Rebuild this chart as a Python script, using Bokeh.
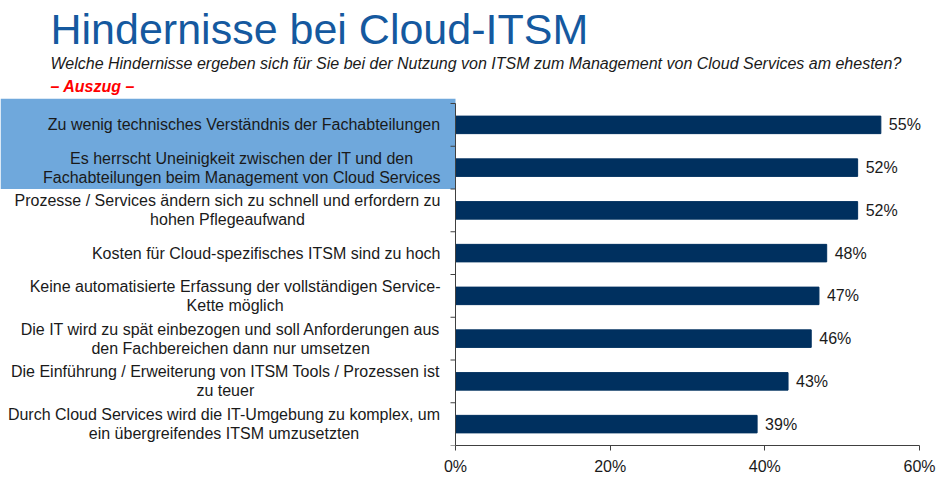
import math
from bokeh.plotting import figure
from bokeh.models import (Range1d, FixedTicker, PrintfTickFormatter, BoxAnnotation,
                          Title, ColumnDataSource)
from bokeh.core.properties import value
from bokeh.embed import file_html
from bokeh.resources import INLINE

# ---------------- data ----------------
categories = [
    "Zu wenig technisches Verständnis der Fachabteilungen",
    "Es herrscht Uneinigkeit zwischen der IT und den\nFachabteilungen beim Management von Cloud Services",
    "Prozesse / Services ändern sich zu schnell und erfordern zu\nhohen Pflegeaufwand",
    "Kosten für Cloud-spezifisches ITSM sind zu hoch",
    "Keine automatisierte Erfassung der vollständigen Service-\nKette möglich",
    "Die IT wird zu spät einbezogen und soll Anforderungen aus\nden Fachbereichen dann nur umsetzen",
    "Die Einführung / Erweiterung von ITSM Tools / Prozessen ist\nzu teuer",
    "Durch Cloud Services wird die IT-Umgebung zu komplex, um\nein übergreifendes ITSM umzusetzten",
]
values = [55, 52, 52, 48, 47, 46, 43, 39]
x_ticks = [0, 20, 40, 60]
n_highlighted = 2

title_text = "Hindernisse bei Cloud-ITSM"
subtitle_text = ("Welche Hindernisse ergeben sich für Sie bei der Nutzung von ITSM "
                 "zum Management von Cloud Services am ehesten?")
note_text = "– Auszug –"

# ---------------- layout ----------------
FONT = "Liberation Sans"
W, H = 936, 478
MB_RIGHT, MB_TOP, MB_BOTTOM = 11, 98, 33
AXIS0_PX = 455.0                 # pixel position of 0 %
SCALE = 464.0 / 60.0             # px per percent
X_START = -AXIS0_PX / SCALE
X_END = X_START + (W - MB_RIGHT) / SCALE
n = len(categories)
Y_END = n + 5.0 / 42.75
LABEL_FS = 16

# Arial / Liberation Sans advance widths (1/1000 em)
_w = {}
for chars, wd in [("ijl", 222), (" ftI/.,:;!", 278), ("r-()", 333),
                  ("cksvxyzJ", 500), ("abdeghnopquäöüL0123456789?", 556),
                  ("FTZß", 611), ("ABEKPSVXYÄ", 667), ("CDHNRUwÜ", 722),
                  ("GOQÖ", 778), ("mM", 833), ("%", 889), ("W", 944)]:
    for c in chars:
        _w[c] = wd


def text_px(s, fs):
    return sum(_w.get(c, 556) for c in s) * fs / 1000.0


y_centers = [n - i - 0.5 for i in range(n)]
right_edge = -15.0 / SCALE
label_x = [right_edge - max(text_px(l, LABEL_FS) for l in c.split("\n")) / 2.0 / SCALE
           for c in categories]

src = ColumnDataSource(dict(
    y=y_centers, v=values, cat=categories, lx=label_x,
    vl=[f"{v}%" for v in values],
))

p = figure(width=W, height=H, output_backend="svg", toolbar_location=None,
           x_range=Range1d(X_START, X_END), y_range=Range1d(0, Y_END),
           min_border_left=0, min_border_right=MB_RIGHT,
           min_border_top=MB_TOP, min_border_bottom=MB_BOTTOM,
           title=None, outline_line_color=None)
p.background_fill_color = "white"
p.border_fill_color = "white"
p.xgrid.visible = False
p.ygrid.visible = False
p.yaxis.visible = False

# highlight box behind first categories
p.add_layout(BoxAnnotation(bottom=n - n_highlighted, right=0,
                           fill_color="#6fa8dc", fill_alpha=1.0,
                           line_color=None, level="underlay"))

# bars
p.hbar(y="y", left=0, right="v", height=0.41, source=src,
       fill_color="#00305f", line_color="#00305f")

# value labels
p.text(x="v", y="y", text="vl", source=src, x_offset=8,
       text_align="left", text_baseline="middle",
       text_font=value(FONT), text_font_size="16px", text_color="#1a1a1a")

# category labels
p.text(x="lx", y="y", text="cat", source=src,
       text_align="center", text_baseline="middle", text_line_height=1.12,
       text_font=value(FONT), text_font_size=f"{LABEL_FS}px", text_color="#1a1a1a")

# category axis line + boundary ticks
p.segment(x0=[0], y0=[0], x1=[0], y1=[n], line_color="#404040", line_width=1)
p.ray(x=[0] * (n + 1), y=list(range(n + 1)), length=5, length_units="screen",
      angle=math.pi, line_color="#404040", line_width=1)

# value axis
ax = p.xaxis[0]
ax.bounds = (x_ticks[0], x_ticks[-1])
ax.ticker = FixedTicker(ticks=x_ticks)
ax.formatter = PrintfTickFormatter(format="%d%%")
ax.axis_line_color = "#404040"
ax.major_tick_line_color = "#404040"
ax.major_tick_out = 5
ax.major_tick_in = 0
ax.minor_tick_out = 0
ax.minor_tick_in = 0
ax.major_label_standoff = 7
ax.major_label_text_font = FONT
ax.major_label_text_font_size = "16px"
ax.major_label_text_color = "#1a1a1a"

# titles (added nearest-to-frame first)
p.add_layout(Title(text=note_text, text_font=FONT, text_font_size="16px",
                   text_font_style="bold italic", text_color="#ff0000",
                   align="left", offset=50, standoff=8), "above")
p.add_layout(Title(text=subtitle_text, text_font=FONT, text_font_size="16px",
                   text_font_style="italic", text_color="#1a1a1a",
                   align="left", offset=50, standoff=0), "above")
p.add_layout(Title(text=title_text, text_font=FONT, text_font_size="43px",
                   text_font_style="normal", text_color="#15599f",
                   align="left", offset=50, standoff=0), "above")

open("out.html", "w").write(file_html(p, INLINE))
